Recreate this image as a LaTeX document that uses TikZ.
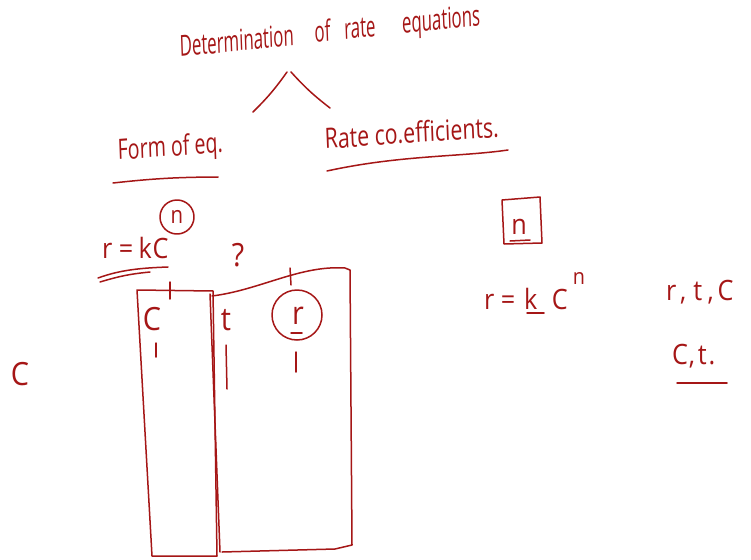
\documentclass[tikz,border=0pt]{standalone}
\usepackage{fontspec}
\setmainfont{Open Sans}
\definecolor{ink}{RGB}{165,22,22}
\begin{document}
\begin{tikzpicture}[x=1pt,y=-1pt,
  ink/.style={draw=ink,line width=1.5pt,line cap=round,line join=round},
  hw/.style={text=ink,inner sep=0pt,font=\fontsize{28}{28}\selectfont,xscale=#1,transform shape},
  hw/.default=0.9,
  big/.style={font=\fontsize{32}{32}\selectfont}]
\useasboundingbox (0,0) rectangle (751,559);
\fill[white] (0,0) rectangle (751,559);
% title and branches
\node[hw=0.58,rotate=3.5,anchor=base west,font=\fontsize{29}{29}\selectfont] (title) at (180,57) {Determination\hspace{36pt}of\hspace{24pt}rate\hspace{46pt}equations};
\coordinate (top1) at (287,72);
\coordinate (top2) at (291,72);
\coordinate (leftend) at (253,112);
\coordinate (rightend) at (330,108);
\draw[ink] (top1) to[bend left=5] (leftend);
\draw[ink] (top2) to[bend right=5] (rightend);
% sub headings
\node[hw=0.7,rotate=3,anchor=base west] (form) at (118,160) {Form of eq.};
\draw[ink] (113,183) to[bend left=3] (218,177);
\node[hw=0.76,rotate=3,anchor=base west] (rate) at (325,149) {Rate co.efficients.};
\draw[ink] (327,171) .. controls (400,155) and (460,157) .. (508,150);
% r = k C^n left
\node[hw,anchor=base west] (rkc) at (102,258) {r\hspace{7pt}=\hspace{6pt}k\hspace{1pt}C};
\node[hw=0.85,inner sep=1pt,font=\fontsize{24}{24}\selectfont] (nexp) at (177,217) {n};
\draw[ink] (177,217) circle (17);
\draw[ink] (98,278) .. controls (120,270) and (140,268) .. (168,267);
\draw[ink] (100,282) .. controls (120,276) and (130,274) .. (150,272);
\node[hw,big,anchor=base] (q) at (238,266) {?};
% left rectangle
\draw[ink] (137,290) -- (213,291) -- (217,556) -- (152,556) -- cycle;
\draw[ink] (170,282) -- (170,299);
% right shape
\draw[ink] (212,296) .. controls (260,290) and (300,265) .. (345,268) -- (350,270) -- (352,545) -- (335,549) -- (222,552);
\draw[ink] (210,294) -- (220,552);
\draw[ink] (290,268) -- (291,285);
% column labels
\node[hw,big,anchor=base] (c1) at (152,330) {C};
\draw[ink] (156,343) -- (156,357);
\node[hw,big,anchor=base] (t1) at (226,330) {t};
\draw[ink] (226,345) -- (227,389);
\node[hw,big,anchor=base] (r1) at (298,324) {r};
\draw[ink] (297,315) circle (25);
\draw[ink] (291,333) -- (302,333);
\draw[ink] (296,352) -- (296,372);
% lone C
\node[hw,big,anchor=base] (cl) at (20,385) {C};
% right side
\node[hw,anchor=base] (nbox) at (519,234) {n};
\draw[ink] (502,200) -- (540,197) -- (542,243) -- (504,244) -- cycle;
\draw[ink] (510,241) -- (530,240);
\node[hw,anchor=base west] (rkc2) at (484,309) {r\hspace{7pt}=\hspace{10pt}k\hspace{16pt}C};
\node[hw,inner sep=0pt,font=\fontsize{22}{22}\selectfont,anchor=base] (n2) at (579,284) {n};
\draw[ink] (527,313) -- (544,313);
\node[hw,anchor=base west] (rtc) at (666,300) {r\hspace{4pt},\hspace{8pt}t\hspace{6pt},\hspace{4pt}C};
\node[hw,anchor=base west] (ct) at (672,364) {C\hspace{1pt},\hspace{3pt}t\hspace{2pt}.};
\draw[ink] (677,383) -- (727,383);
\end{tikzpicture}
\end{document}
